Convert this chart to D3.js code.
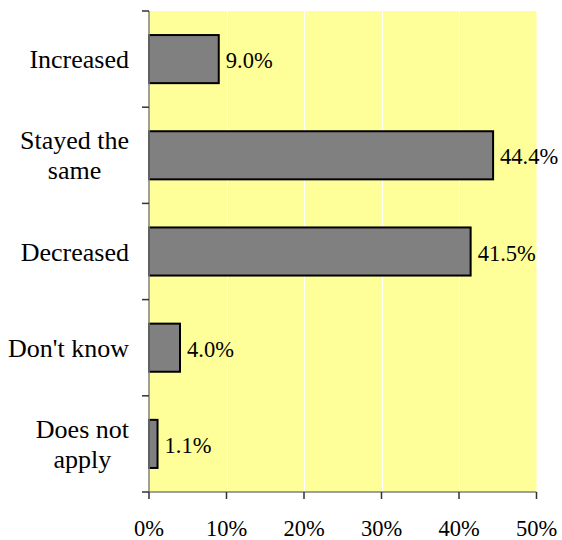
<!DOCTYPE html>
<html><head><meta charset="utf-8">
<script src="https://cdn.jsdelivr.net/npm/d3@7/dist/d3.min.js"></script>
<style>body{margin:0;background:#fff;}</style>
</head><body>
<svg id="c" width="562" height="540"></svg>
<script>
const categories = [["Increased"], ["Stayed the", "same"], ["Decreased"], ["Don't know"], ["Does not", "apply"]];
const values = [9.0, 44.4, 41.5, 4.0, 1.1];
const xTicks = [0, 10, 20, 30, 40, 50];

const FONT = "'Times New Roman', 'Liberation Serif', serif";
const svg = d3.select("#c");
const L = 149, R = 536.5, T = 11, B = 492;
const x = d3.scaleLinear().domain([0, 50]).range([L, R]);
const y = d3.scaleBand().domain(d3.range(values.length)).range([T, B]).paddingInner(0.5).paddingOuter(0.25);
const fsNum = 22.5, fsCat = 26;

svg.append("rect").attr("x", L).attr("y", T).attr("width", R - L).attr("height", B - T).attr("fill", "#FFFF99");
svg.selectAll(".grid").data(xTicks.slice(1, -1)).join("line")
  .attr("x1", d => Math.round(x(d)) + 0.5).attr("x2", d => Math.round(x(d)) + 0.5)
  .attr("y1", T).attr("y2", B).attr("stroke", "#fff").attr("stroke-width", 1);

svg.selectAll(".bar").data(values).join("rect")
  .attr("x", x(0)).attr("y", (d, i) => y(i))
  .attr("width", d => x(d) - x(0)).attr("height", y.bandwidth())
  .attr("fill", "#808080").attr("stroke", "#000").attr("stroke-width", 2);

svg.selectAll(".val").data(values).join("text")
  .attr("x", d => x(d) + 7).attr("y", (d, i) => y(i) + y.bandwidth() / 2)
  .attr("dy", "0.4em").attr("font-size", fsNum).attr("font-family", FONT).attr("fill", "#000")
  .text(d => d.toFixed(1) + "%");

// axes
const band = (B - T) / values.length;
svg.append("line").attr("x1", L).attr("x2", L).attr("y1", T).attr("y2", B).attr("stroke", "#808080").attr("stroke-width", 1.5);
svg.append("line").attr("x1", L).attr("x2", R).attr("y1", B).attr("y2", B).attr("stroke", "#808080").attr("stroke-width", 1.5);
svg.selectAll(".ytick").data(d3.range(values.length + 1)).join("line")
  .attr("x1", L - 7).attr("x2", L).attr("y1", i => T + i * band).attr("y2", i => T + i * band)
  .attr("stroke", "#333").attr("stroke-width", 1.5);
svg.selectAll(".xtick").data(xTicks).join("line")
  .attr("x1", d => x(d)).attr("x2", d => x(d)).attr("y1", B).attr("y2", B + 7)
  .attr("stroke", "#333").attr("stroke-width", 1.5);
svg.selectAll(".xl").data(xTicks).join("text")
  .attr("x", d => x(d)).attr("y", 536).attr("text-anchor", "middle")
  .attr("font-size", fsNum).attr("font-family", FONT).attr("fill", "#000").text(d => d + "%");

// category labels
const rightX = 129, lh = 30;
categories.forEach((lines, i) => {
  const cy = y(i) + y.bandwidth() / 2;
  const g = svg.append("g");
  const ts = lines.map((ln, j) => g.append("text").attr("font-size", fsCat).attr("font-family", FONT).attr("fill", "#000")
    .attr("y", cy + (j - (lines.length - 1) / 2) * lh).attr("dy", "0.35em").text(ln));
  const widths = ts.map(t => t.node().getComputedTextLength());
  const mw = d3.max(widths);
  ts.forEach(t => t.attr("x", rightX - mw / 2).attr("text-anchor", "middle"));
});
</script>
</body></html>
